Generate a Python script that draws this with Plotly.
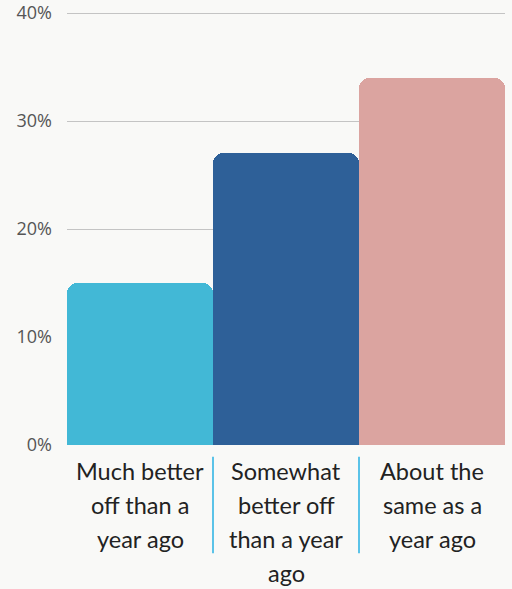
import plotly.graph_objects as go

categories = ["Much better off than a year ago",
              "Somewhat better off than a year ago",
              "About the same as a year ago"]
label_lines = [["Much better", "off than a", "year ago"],
               ["Somewhat", "better off", "than a year", "ago"],
               ["About the", "same as a", "year ago"]]
values = [15, 27, 34]
colors = ["#42b8d6", "#2e6098", "#dba4a0"]
y_ticks = [0, 10, 20, 30, 40]
y_tick_labels = ["0%", "10%", "20%", "30%", "40%"]

fig = go.Figure(go.Bar(x=categories, y=values, marker_color=colors,
                       marker_line_width=0))

fig.update_layout(
    width=512, height=589,
    margin=dict(l=67, r=7, t=10, b=144, autoexpand=False),
    paper_bgcolor="#f9f9f7", plot_bgcolor="#f9f9f7",
    bargap=0, barcornerradius=10, showlegend=False,
)
fig.update_xaxes(showticklabels=False, showgrid=False, automargin=False,
                 ticks="", showline=False)
fig.update_yaxes(range=[0, 40.28], tickvals=y_ticks, ticktext=y_tick_labels,
                 showgrid=True, gridcolor="#c4c4c4", gridwidth=1,
                 zeroline=False, ticks="", ticklabelstandoff=14, automargin=False,
                 tickfont=dict(family="Open Sans", size=18, color="#555"))

for i, lines in enumerate(label_lines):
    for j, line in enumerate(lines):
        fig.add_annotation(x=categories[i], y=0, xref="x", yref="paper",
                           text=line, showarrow=False, xanchor="center",
                           yanchor="top", yshift=-(10 + 34 * j),
                           font=dict(family="Lato", size=23.5, color="#222"))

for i in range(len(categories) - 1):
    fig.add_shape(type="line", xref="x", yref="paper",
                  x0=i + 0.5, x1=i + 0.5, y0=-0.027, y1=-0.249,
                  line=dict(color="#5bc3e8", width=2))

fig.write_html("out.html")
